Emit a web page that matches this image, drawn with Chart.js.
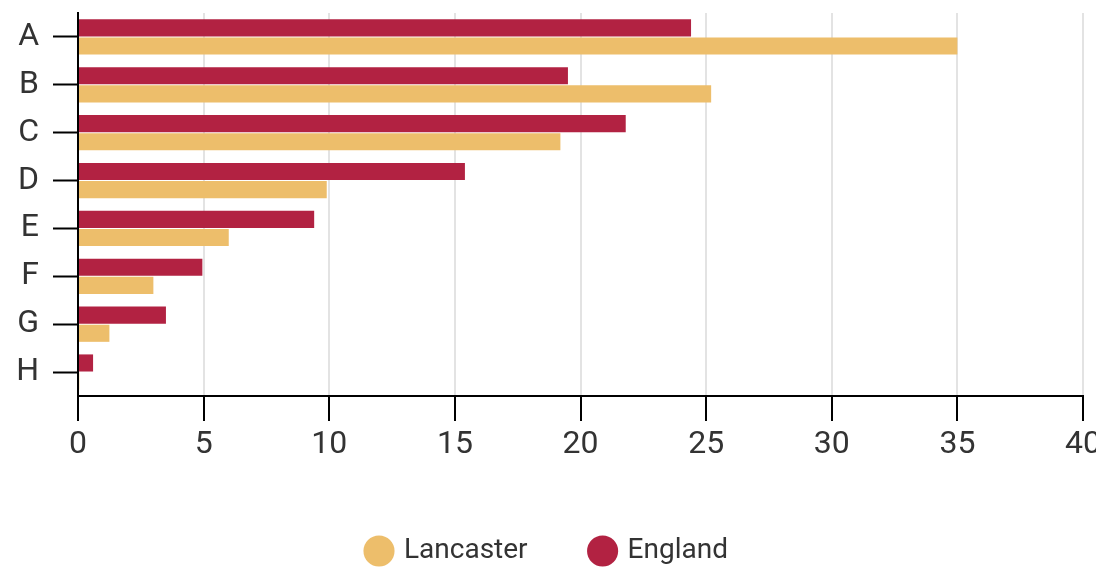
<!DOCTYPE html>
<html>
<head>
<meta charset="utf-8">
<script src="https://cdn.jsdelivr.net/npm/chart.js@4"></script>
<style>
  html, body { margin: 0; padding: 0; overflow: hidden; background: #fff; }
  #wrap { width: 1096px; height: 568px; }
</style>
</head>
<body>
<div id="wrap"><canvas id="chart"></canvas></div>
<script>
// data
const categories = ['A', 'B', 'C', 'D', 'E', 'F', 'G', 'H'];
const england = [24.4, 19.5, 21.8, 15.4, 9.4, 4.95, 3.5, 0.6];
const lancaster = [35.0, 25.2, 19.2, 9.9, 6.0, 3.0, 1.25, 0.05];
const xTicks = [0, 5, 10, 15, 20, 25, 30, 35, 40];

const font = 'Roboto, "Liberation Sans", sans-serif';

const ctx = document.getElementById('chart').getContext('2d');
new Chart(ctx, {
  type: 'bar',
  data: {
    labels: categories,
    datasets: [
      { label: 'England', data: england, backgroundColor: '#b22242', barPercentage: 0.94, categoryPercentage: 0.76 },
      { label: 'Lancaster', data: lancaster, backgroundColor: '#edbe6b', barPercentage: 0.94, categoryPercentage: 0.76 }
    ]
  },
  options: {
    indexAxis: 'y',
    responsive: true,
    maintainAspectRatio: false,
    animation: false,
    layout: { padding: { top: 13, left: 0, right: 0, bottom: -7 } },
    scales: {
      x: {
        min: 0, max: 40,
        afterBuildTicks: axis => { axis.ticks = xTicks.map(v => ({ value: v })); },
        // keep the plot right edge at 1083 so the "40" label gets clipped like the original
        afterFit: axis => { axis.paddingLeft = 0; axis.paddingRight = 13; axis.height = 77; },
        grid: { color: '#e3e3e3', lineWidth: 2, tickColor: '#000', tickLength: 25, tickWidth: 2 },
        border: { color: '#000', width: 2 },
        ticks: { color: '#333', padding: 5, font: { family: font, size: 32 } }
      },
      y: {
        afterFit: axis => { axis.paddingTop = 0; axis.paddingBottom = 0; axis.width = 78; },
        grid: { offset: false, drawOnChartArea: false, tickColor: '#000', tickLength: 25, tickWidth: 2 },
        border: { color: '#000', width: 2 },
        ticks: { color: '#333', padding: 14, font: { family: font, size: 32 } }
      }
    },
    plugins: {
      legend: {
        position: 'bottom',
        reverse: true,
        labels: {
          usePointStyle: true, pointStyle: 'circle',
          boxWidth: 22, boxHeight: 22,
          padding: 64,
          color: '#333',
          font: { family: font, size: 28 }
        }
      },
      tooltip: { enabled: false }
    }
  }
});
</script>
</body>
</html>
